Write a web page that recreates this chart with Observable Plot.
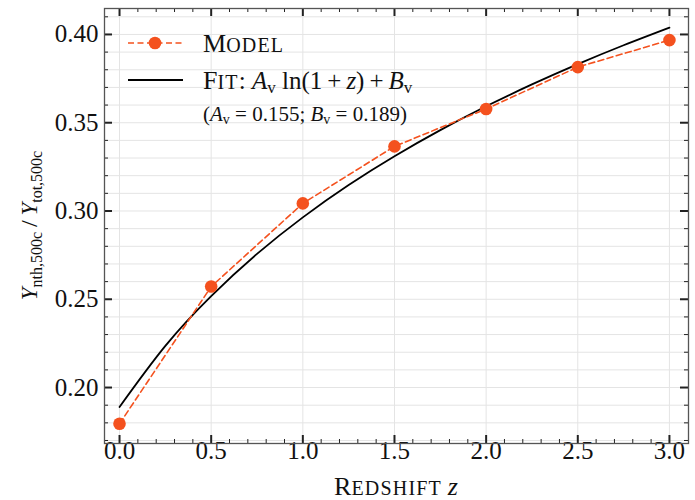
<!DOCTYPE html>
<html><head><meta charset="utf-8">
<script src="https://cdn.jsdelivr.net/npm/d3@7"></script>
<script src="https://cdn.jsdelivr.net/npm/@observablehq/plot@0.6"></script>
<style>body{margin:0;background:#fff;}</style>
</head><body><div id="chart"></div>
<script>
// ---- data ----
const redshift = [0.0, 0.5, 1.0, 1.5, 2.0, 2.5, 3.0];
const modelRatio = [0.1795, 0.2572, 0.3043, 0.3366, 0.3578, 0.3815, 0.3968];
const fitRedshift = [0, 0.25, 0.5, 0.75, 1.0, 1.25, 1.5, 1.75, 2.0, 2.25, 2.5, 2.75, 3.0];
const fitRatio = [0.189, 0.2236, 0.2518, 0.2757, 0.2964, 0.3147, 0.3310, 0.3458, 0.3593, 0.3717, 0.3832, 0.3939, 0.4039];
const xMajorTicks = [0.0, 0.5, 1.0, 1.5, 2.0, 2.5, 3.0];
const xMinorTicks = [0.1,0.2,0.3,0.4,0.6,0.7,0.8,0.9,1.1,1.2,1.3,1.4,1.6,1.7,1.8,1.9,2.1,2.2,2.3,2.4,2.6,2.7,2.8,2.9];
const yMajorTicks = [0.20, 0.25, 0.30, 0.35, 0.40];
const yMinorTicks = [0.17,0.18,0.19,0.21,0.22,0.23,0.24,0.26,0.27,0.28,0.29,0.31,0.32,0.33,0.34,0.36,0.37,0.38,0.39,0.41];
const legendModel = "Model";
const fitA = 0.155, fitB = 0.189;

const model = redshift.map((z, i) => ({z, y: modelRatio[i]}));
const fit = fitRedshift.map((z, i) => ({z, y: fitRatio[i]}));

const W = 695, H = 500;
const mTop = 8, mRight = 7, mBottom = 57, mLeft = 104;
const innerH = H - mTop - mBottom;
const innerW = W - mLeft - mRight;
const orange = "#f4511e";
const tickColor = "#222";
const F = "'Liberation Serif', 'DejaVu Serif', serif";

const chart = Plot.plot({
  width: W, height: H,
  marginTop: mTop, marginRight: mRight, marginBottom: mBottom, marginLeft: mLeft,
  style: {fontFamily: F, fontSize: "24px", background: "#fff", color: "#111"},
  x: {domain: [-0.082, 3.104], axis: null},
  y: {domain: [0.1683, 0.4147], axis: null},
  marks: [
    Plot.ruleY(yMinorTicks.concat(yMajorTicks), {y: d => d, stroke: "#e4e4e4", strokeWidth: 1}),
    Plot.ruleX(xMajorTicks, {x: d => d, stroke: "#e4e4e4", strokeWidth: 1}),
    // inward ticks, all four sides
    Plot.ruleX(xMajorTicks, {x: d => d, insetTop: innerH - 8, stroke: tickColor, strokeWidth: 2}),
    Plot.ruleX(xMajorTicks, {x: d => d, insetBottom: innerH - 8, stroke: tickColor, strokeWidth: 2}),
    Plot.ruleX(xMinorTicks, {x: d => d, insetTop: innerH - 4, stroke: tickColor, strokeWidth: 1}),
    Plot.ruleX(xMinorTicks, {x: d => d, insetBottom: innerH - 4, stroke: tickColor, strokeWidth: 1}),
    Plot.ruleY(yMajorTicks, {y: d => d, insetRight: innerW - 8, stroke: tickColor, strokeWidth: 2}),
    Plot.ruleY(yMajorTicks, {y: d => d, insetLeft: innerW - 8, stroke: tickColor, strokeWidth: 2}),
    Plot.ruleY(yMinorTicks, {y: d => d, insetRight: innerW - 4, stroke: tickColor, strokeWidth: 1}),
    Plot.ruleY(yMinorTicks, {y: d => d, insetLeft: innerW - 4, stroke: tickColor, strokeWidth: 1}),
    // tick labels
    Plot.text(xMajorTicks, {x: d => d, frameAnchor: "bottom", dy: 15, text: d3.format(".1f"),
      fontSize: 25, fontFamily: F, fill: "#111", textAnchor: "middle"}),
    Plot.text(yMajorTicks, {y: d => d, frameAnchor: "left", dx: -6, text: d3.format(".2f"),
      fontSize: 25, fontFamily: F, fill: "#111", textAnchor: "end"}),
    Plot.line(fit, {x: "z", y: "y", stroke: "#000", strokeWidth: 1.8, curve: "natural"}),
    Plot.line(model, {x: "z", y: "y", stroke: orange, strokeWidth: 1.6, strokeDasharray: "6,3.5", curve: "linear"}),
    Plot.dot(model, {x: "z", y: "y", r: 6.3, fill: orange, stroke: "none"}),
    Plot.frame({stroke: "#555", strokeWidth: 1.3})
  ]
});
document.getElementById("chart").appendChild(chart);

// ---- labels and legend with subscripts / small caps ----
const svg = d3.select(chart);
function addText(g, x, y, parts, attrs = {}) {
  const t = g.append("text").attr("x", x).attr("y", y).attr("font-family", F)
    .attr("fill", "#111").attr("text-anchor", "start");
  for (const k in attrs) t.attr(k, attrs[k]);
  for (const p of parts) {
    const s = t.append("tspan").text(p.t).attr("font-size", p.s || 24);
    if (p.i) s.attr("font-style", "italic");
    if (p.dy) s.attr("dy", p.dy);
    if (p.ls) s.attr("letter-spacing", p.ls);
  }
  return t;
}
const g = svg.append("g");
// x label
addText(g, mLeft + innerW / 2, 495, [
  {t: "R", s: 26}, {t: "EDSHIFT ", s: 20, ls: 1.2}, {t: "z", s: 26, i: true}
], {"text-anchor": "middle"});
// y label
addText(g, 0, 0, [
  {t: "Y", s: 23, i: true}, {t: "nth,500c", s: 16, dy: 5}, {t: "\u2009/\u2009", s: 24, dy: -5},
  {t: "Y", s: 23, i: true}, {t: "tot,500c", s: 16, dy: 5}
], {"text-anchor": "middle", transform: `translate(37,${mTop + innerH / 2}) rotate(-90)`});

// legend
const lg = svg.append("g");
lg.append("line").attr("x1", 128).attr("x2", 183).attr("y1", 43).attr("y2", 43)
  .attr("stroke", orange).attr("stroke-width", 1.6).attr("stroke-dasharray", "6,3.5");
lg.append("circle").attr("cx", 155).attr("cy", 43).attr("r", 6.3).attr("fill", orange);
lg.append("line").attr("x1", 128).attr("x2", 183).attr("y1", 80).attr("y2", 80)
  .attr("stroke", "#000").attr("stroke-width", 1.8);
addText(lg, 203, 52, [{t: legendModel[0], s: 26}, {t: legendModel.slice(1).toUpperCase(), s: 20, ls: 1.2}]);
addText(lg, 203, 89, [
  {t: "F", s: 26}, {t: "IT", s: 20, ls: 1.2}, {t: ": ", s: 25},
  {t: "A", s: 25, i: true}, {t: "v", s: 17, dy: 4}, {t: " ln(1\u2009+\u2009", s: 25, dy: -4},
  {t: "z", s: 25, i: true}, {t: ")\u2009+\u2009", s: 25}, {t: "B", s: 25, i: true}, {t: "v", s: 17, dy: 4}
]);
addText(lg, 203, 121, [
  {t: "(", s: 21}, {t: "A", s: 21, i: true}, {t: "v", s: 14, dy: 3}, {t: " = " + fitA.toFixed(3) + "; ", s: 21, dy: -3},
  {t: "B", s: 21, i: true}, {t: "v", s: 14, dy: 3}, {t: " = " + fitB.toFixed(3) + ")", s: 21, dy: -3}
]);
</script></body></html>
